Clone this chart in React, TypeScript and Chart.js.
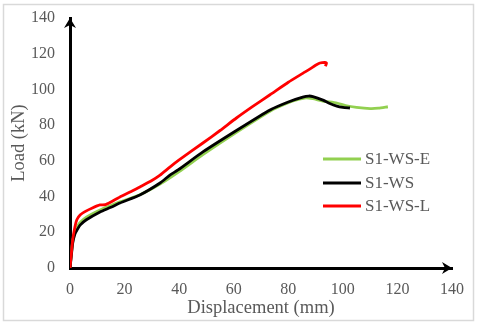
import React, { useEffect, useRef } from "react";
import { Chart, registerables } from "chart.js";

Chart.register(...registerables);

const xTicks = [0, 20, 40, 60, 80, 100, 120, 140];
const yTicks = [0, 20, 40, 60, 80, 100, 120, 140];

const seriesNames = ["S1-WS-E", "S1-WS", "S1-WS-L"];
const seriesColors = ["#92D050", "#000000", "#FF0000"];

const eDisp = [0, 0.5, 1, 1.8, 2.6, 3.7, 6, 11, 15, 18.3, 25.6, 33, 40, 48.7, 61, 73.3, 80, 84, 86.5, 89, 92.7, 97.8, 101, 105, 110, 113, 116.5];
const eLoad = [0, 8, 15, 20.5, 23, 25.5, 28.5, 32.5, 35, 37, 41, 47, 54, 63.5, 76, 87.8, 92.5, 94.5, 95.3, 94.8, 93.5, 92.4, 91, 90, 89.3, 89.5, 90.3];

const wsDisp = [0, 0.5, 1, 1.8, 2.6, 3.7, 6, 11, 15, 18.3, 25.6, 33, 36.6, 39.6, 48.7, 61, 73.3, 80, 85.3, 87.5, 89, 92.7, 95, 97.8, 100, 102.6];
const wsLoad = [0, 7, 14, 19, 21.3, 24, 27, 31.4, 34, 36.4, 40.9, 47.6, 52, 54.9, 65, 77, 88.5, 93, 95.7, 96.3, 96, 94, 92.3, 90.7, 90, 89.6];

const lDisp = [0, 0.5, 1, 1.8, 2.5, 3.7, 6, 8, 11, 13, 15, 18.3, 22, 25.6, 30, 33, 36.6, 40, 48.7, 55, 61, 67, 73.3, 80, 85.3, 88, 90, 91.6, 93.4, 94, 93.6];
const lLoad = [0, 8, 16, 23, 27, 29.7, 32, 33.5, 35.3, 35.5, 37, 39.8, 42.5, 45.4, 49, 52, 56.5, 60.5, 70, 77, 84, 90.5, 97, 104, 109, 111.5, 113.5, 114.8, 115.2, 114.8, 113];

const xTitle = "Displacement (mm)";
const yTitle = "Load (kN)";

const FONT = "'Liberation Serif', 'Times New Roman', serif";
const GRAY = "#595959";

function pts(xs: number[], ys: number[]) {
  return xs.map((x, i) => ({ x, y: ys[i] }));
}

const decorPlugin = {
  id: "decor",
  afterDraw(chart: any) {
    const ctx = chart.ctx;
    const ca = chart.chartArea;
    ctx.save();
    // frame
    ctx.strokeStyle = "#D9D9D9";
    ctx.lineWidth = 1.5;
    ctx.strokeRect(3.5, 4.5, 470, 316);
    // arrows
    ctx.fillStyle = "#000";
    ctx.beginPath();
    ctx.moveTo(ca.left, ca.top);
    ctx.lineTo(ca.left - 6, ca.top + 10);
    ctx.lineTo(ca.left, ca.top + 7);
    ctx.lineTo(ca.left + 6, ca.top + 10);
    ctx.closePath();
    ctx.fill();
    ctx.beginPath();
    ctx.moveTo(ca.right, ca.bottom);
    ctx.lineTo(ca.right - 10, ca.bottom - 6);
    ctx.lineTo(ca.right - 7, ca.bottom);
    ctx.lineTo(ca.right - 10, ca.bottom + 6);
    ctx.closePath();
    ctx.fill();
    // legend
    const ys = [159, 183, 206];
    ctx.font = `17px ${FONT}`;
    ctx.textBaseline = "middle";
    ctx.textAlign = "left";
    seriesNames.forEach((name, i) => {
      ctx.strokeStyle = seriesColors[i];
      ctx.lineWidth = 3;
      ctx.beginPath();
      ctx.moveTo(323, ys[i]);
      ctx.lineTo(361, ys[i]);
      ctx.stroke();
      ctx.fillStyle = GRAY;
      ctx.fillText(name, 365, ys[i] + 1);
    });
    ctx.restore();
  },
};

export default function App() {
  const ref = useRef<HTMLCanvasElement>(null);
  useEffect(() => {
    document.body.style.margin = "0";
    const datasets = [
      { label: seriesNames[0], data: pts(eDisp, eLoad), borderColor: seriesColors[0], order: 3 },
      { label: seriesNames[1], data: pts(wsDisp, wsLoad), borderColor: seriesColors[1], order: 2 },
      { label: seriesNames[2], data: pts(lDisp, lLoad), borderColor: seriesColors[2], order: 1 },
    ].map((d) => ({
      ...d,
      showLine: true,
      pointRadius: 0,
      borderWidth: 2.8,
      tension: 0.2,
      fill: false,
    }));
    const chart = new Chart(ref.current!, {
      type: "scatter",
      data: { datasets },
      options: {
        animation: false,
        responsive: false,
        layout: { padding: { top: 18, right: 28, left: 0, bottom: 0 } },
        plugins: { legend: { display: false }, tooltip: { enabled: false } },
        scales: {
          x: {
            type: "linear",
            min: 0,
            max: 140,
            afterBuildTicks: (s: any) => {
              s.ticks = xTicks.map((v) => ({ value: v }));
            },
            afterFit: (s: any) => {
              s.height = 56;
            },
            grid: { display: false },
            border: { display: true, color: "#000", width: 3 },
            ticks: { color: GRAY, font: { family: FONT, size: 16 }, padding: 4, maxRotation: 0 },
            title: { display: true, text: xTitle, color: GRAY, font: { family: FONT, size: 18.5 }, padding: { top: 0, bottom: 5 } },
          },
          y: {
            type: "linear",
            min: 0,
            max: 140,
            afterBuildTicks: (s: any) => {
              s.ticks = yTicks.map((v) => ({ value: v }));
            },
            afterFit: (s: any) => {
              s.width = 70;
            },
            grid: { display: false },
            border: { display: true, color: "#000", width: 3 },
            ticks: { color: GRAY, font: { family: FONT, size: 16 }, padding: 7 },
            title: { display: true, text: yTitle, color: GRAY, font: { family: FONT, size: 18.5 }, padding: { top: 8, bottom: 0 } },
          },
        },
      },
      plugins: [decorPlugin],
    });
    return () => chart.destroy();
  }, []);
  return <canvas ref={ref} width={480} height={324} style={{ display: "block" }} />;
}
